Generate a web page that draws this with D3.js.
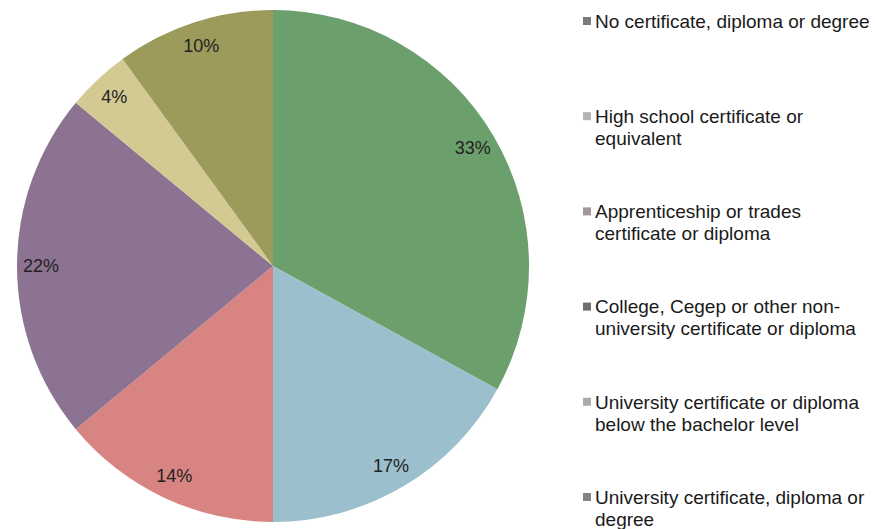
<!DOCTYPE html>
<html>
<head>
<meta charset="utf-8">
<script src="https://cdn.jsdelivr.net/npm/d3@7"></script>
<style>
  body { margin: 0; background: #fff; }
  svg { display: block; font-family: "Liberation Sans", Arial, sans-serif; }
</style>
</head>
<body>
<div id="chart"></div>
<script>
// categories in legend order, one slice each (clockwise from 12 o'clock)
const categories = [
    ['No certificate, diploma or degree'],
    ['High school certificate or', 'equivalent'],
    ['Apprenticeship or trades', 'certificate or diploma'],
    ['College, Cegep or other non-', 'university certificate or diploma'],
    ['University certificate or diploma', 'below the bachelor level'],
    ['University certificate, diploma or', 'degree']
];
const shares = [33, 17, 14, 22, 4, 10];
const sliceColors = ['#6b9f6b', '#9bbfcd', '#d88483', '#8b7391', '#d3c993', '#9d9b5b'];
const legendColors = ['#7a7a7a', '#b4b4b4', '#a39696', '#6f6f6f', '#ababab', '#858585'];

const width = 875, height = 529;
const cx = 273, cy = 266, radius = 256;

const svg = d3.select('#chart')
    .append('svg')
    .attr('width', width)
    .attr('height', height);

const pie = d3.pie().sort(null).value(d => d);
const arcs = pie(shares);

const arc = d3.arc().innerRadius(0).outerRadius(radius);
const labelArc = d3.arc().innerRadius(232).outerRadius(232);

const g = svg.append('g').attr('transform', `translate(${cx},${cy})`);

g.selectAll('path')
    .data(arcs)
    .enter()
    .append('path')
    .attr('d', arc)
    .attr('fill', (d, i) => sliceColors[i]);

g.selectAll('text')
    .data(arcs)
    .enter()
    .append('text')
    .attr('transform', d => `translate(${labelArc.centroid(d)})`)
    .attr('text-anchor', 'middle')
    .attr('dy', '0.35em')
    .attr('font-size', 18)
    .attr('fill', '#222')
    .text(d => d.data + '%');

// legend
const legend = svg.append('g');
const itemY = d3.scalePoint().domain(d3.range(categories.length)).range([21, 497]);

const items = legend.selectAll('g')
    .data(categories)
    .enter()
    .append('g')
    .attr('transform', (d, i) => `translate(0,${itemY(i)})`);

items.append('rect')
    .attr('x', 583)
    .attr('y', -4)
    .attr('width', 8)
    .attr('height', 8)
    .attr('fill', (d, i) => legendColors[i]);

items.append('text')
    .attr('x', 595)
    .attr('font-size', 19)
    .attr('fill', '#1a1a1a')
    .selectAll('tspan')
    .data(d => d)
    .enter()
    .append('tspan')
    .attr('x', 595)
    .attr('y', (d, i) => i * 22)
    .attr('dy', '0.36em')
    .text(d => d);
</script>
</body>
</html>
